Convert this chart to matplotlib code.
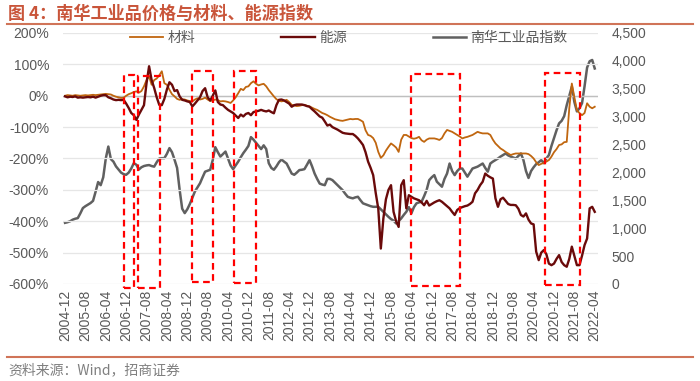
import numpy as np
import pandas as pd
import matplotlib
matplotlib.use('Agg')
import matplotlib.pyplot as plt
from matplotlib.patches import Rectangle
from matplotlib import ticker

plt.rcParams['font.family'] = ['Liberation Sans', 'Noto Sans CJK SC', 'DejaVu Sans']

# monthly, 2004-12 .. 2022-04
months = pd.date_range('2004-12-01', periods=209, freq='MS').strftime('%Y-%m').tolist()

# 材料 (%), left axis
material = [0, 2, 1, 0, 2, 1, 0, 1, 2, 1, 2, 3, 2, 3, 4, 5,
            6, 5, 4, 0, -3, -5, -7, -6, 0, 5, 8, 12, 14, 10, 15, 30,
            50, 62, 35, 50, 55, 65, 78, 40, 35, 19, 5, -2, -10, -13, -11, -12,
            -15, -17, -18, -12, -8, -12, -10, -6, -12, -17, -15, -12, -14, -18, -17, -18,
            -20, -23, -15, -5, 8, 22, 18, 28, 30, 40, 46, 38, 33, 36, 38, 30,
            18, 8, -2, -11, -16, -18, -16, -13, -20, -29, -31, -33, -32, -30, -29, -32,
            -34, -38, -42, -45, -50, -55, -58, -62, -67, -71, -75, -77, -79, -80, -78, -76,
            -74, -75, -74, -74, -78, -83, -110, -125, -128, -135, -150, -179, -198, -190, -175, -163,
            -152, -158, -165, -179, -140, -125, -125, -130, -135, -137, -135, -131, -142, -147, -140, -136,
            -136, -136, -138, -141, -135, -120, -109, -112, -115, -120, -125, -130, -136, -133, -131, -128,
            -125, -120, -115, -118, -120, -120, -120, -125, -140, -152, -160, -168, -173, -179, -184, -189,
            -186, -184, -184, -184, -184, -184, -186, -192, -200, -212, -221, -217, -214, -210, -205, -194,
            -180, -170, -157, -155, -148, -147, -40, 39, -5, -46, -55, -62, -55, -24, -35, -40,
            -35]

# 能源 (%), left axis
energy = [-2, -5, -3, -4, -2, -6, -5, -6, -5, -4, -5, -3, -6, -3, 0, 2,
          2, -5, -8, -12, -14, -13, -14, -13, -25, -39, -55, -62, -77, -60, -45, -30,
          40, 94, 50, 25, -5, -29, -30, -10, 20, 43, 35, 15, 18, -2, -13, -15,
          -18, -20, -34, -25, -15, -5, 15, 24, -5, -15, 0, 17, -20, -28, -30, -38,
          -45, -50, -55, -63, -71, -60, -66, -58, -55, -62, -52, -50, -48, -45, -48, -50,
          -47, -52, -56, -30, -13, -12, -15, -20, -25, -35, -30, -28, -28, -28, -30, -33,
          -35, -43, -50, -58, -66, -70, -82, -95, -92, -100, -104, -108, -113, -118, -120, -121,
          -122, -122, -128, -136, -146, -157, -180, -210, -230, -253, -310, -360, -487, -391, -330, -300,
          -285, -370, -400, -418, -285, -269, -359, -317, -322, -327, -330, -333, -340, -349, -335, -350,
          -345, -340, -336, -333, -338, -345, -352, -359, -370, -380, -364, -358, -355, -352, -350, -345,
          -338, -311, -300, -285, -274, -248, -255, -260, -264, -327, -354, -330, -325, -335, -345, -348,
          -348, -349, -360, -380, -385, -375, -395, -407, -410, -497, -524, -500, -492, -505, -535, -540,
          -535, -520, -508, -530, -540, -545, -520, -481, -510, -540, -540, -510, -476, -455, -359, -354,
          -370]

# 南华工业品指数, right axis
nanhua = [1097, 1108, 1125, 1153, 1170, 1181, 1266, 1361, 1395, 1423, 1451, 1491, 1654, 1828, 1772, 1913,
          2250, 2464, 2239, 2194, 2109, 2053, 1997, 1969, 1958, 1997, 2070, 2166, 2138, 2053, 2093, 2115,
          2126, 2132, 2115, 2104, 2183, 2250, 2256, 2256, 2334, 2436, 2363, 2228, 2081, 1688, 1350, 1271,
          1339, 1434, 1547, 1659, 1733, 1806, 1913, 2014, 2031, 2048, 2222, 2453, 2363, 2284, 2329, 2374,
          2250, 2126, 2059, 2126, 2194, 2273, 2346, 2408, 2475, 2633, 2588, 2531, 2475, 2419, 2486, 2419,
          2166, 2081, 2048, 2109, 2183, 2233, 2194, 2160, 2070, 1980, 1958, 1997, 2042, 2048, 2059, 2138,
          2222, 2109, 1980, 1884, 1800, 1783, 1772, 1884, 1884, 1862, 1817, 1772, 1727, 1682, 1620, 1564,
          1547, 1536, 1553, 1564, 1502, 1446, 1429, 1412, 1395, 1384, 1384, 1384, 1339, 1294, 1249, 1204,
          1164, 1136, 1086, 1125, 1176, 1238, 1294, 1378, 1266, 1378, 1446, 1463, 1474, 1575, 1688, 1862,
          1913, 1952, 1834, 1789, 1744, 1884, 1980, 2160, 2025, 1952, 2025, 2070, 2070, 1997, 1924, 1997,
          2070, 2087, 2104, 2132, 2160, 2081, 2014, 2160, 2194, 2222, 2250, 2284, 2312, 2340, 2306, 2284,
          2267, 2250, 2295, 2340, 2222, 2025, 1901, 2025, 2093, 2149, 2183, 2222, 2166, 2250, 2312, 2475,
          2616, 2756, 2880, 2925, 3009, 3206, 3375, 3538, 3263, 3094, 3150, 3240, 3544, 3881, 3994, 4016,
          3864]

# highlighted periods: (start month idx, end month idx, top %, bottom %)
boxes = [(23.2, 27.1, 66, -613), (28.6, 37.3, 63, -613), (49.8, 58.1, 79, -594),
         (66.3, 75.0, 79, -597), (135.8, 155.0, 69, -607), (188.4, 202.1, 73, -603)]

c_mat = '#C0660F'
c_en = '#6A0A0A'
c_nh = '#606060'
c_txt = '#595959'
c_title = '#C9553A'

fig = plt.figure(figsize=(7, 3.81), dpi=100)
ax = fig.add_axes([0.09, 0.2546, 0.764, 0.6588])
ax2 = ax.twinx()

x = np.arange(len(months))
l1, = ax.plot(x, material, color=c_mat, lw=1.3, label='材料')
l2, = ax.plot(x, energy, color=c_en, lw=1.7, label='能源')
l3, = ax2.plot(x, nanhua, color=c_nh, lw=1.8, label='南华工业品指数')

for x0, x1, top, bot in boxes:
    ax.add_patch(Rectangle((x0, bot), x1 - x0, top - bot, fill=False, ec='#FF0000',
                           lw=1.6, ls=(0, (3, 2)), clip_on=False, zorder=10))

ax.set_xlim(-0.8, 209.2)
ax.set_ylim(-600, 200)
ax2.set_ylim(0, 4500)
ax.set_yticks(np.arange(-600, 201, 100))
ax2.set_yticks(np.arange(0, 4501, 500))
ax.yaxis.set_major_formatter(ticker.FuncFormatter(lambda v, p: '%d%%' % v))
ax2.yaxis.set_major_formatter(ticker.FuncFormatter(lambda v, p: '{:,.0f}'.format(v)))
ax.set_xticks(x[::8])
ax.set_xticklabels(months[::8], rotation=90)

for a in (ax, ax2):
    for s in a.spines.values():
        s.set_visible(False)
    a.tick_params(length=0, labelsize=10, colors=c_txt)
ax.tick_params(axis='y', pad=10)
ax2.tick_params(axis='y', pad=10)
ax.tick_params(axis='x', pad=4)

ax.grid(axis='y', color='#E6E6E6', lw=0.9)
ax.axhline(0, color='#BFBFBF', lw=1.0, zorder=1)
ax.set_axisbelow(True)
ax.set_zorder(ax2.get_zorder() + 1)
ax.patch.set_visible(False)

fig.legend([l1, l2, l3], ['材料', '能源', '南华工业品指数'], loc='center left',
           bbox_to_anchor=(0.168, 0.901), ncol=3, frameon=False,
           handlelength=2.4, handletextpad=0.3, columnspacing=6.2, labelcolor=c_txt,
           prop={'family': ['Noto Sans CJK SC'], 'size': 10})

fig.text(0.012, 0.965, '图 4：南华工业品价格与材料、能源指数', fontsize=12.3, fontweight='bold',
         color=c_title, va='center', family=['Noto Sans CJK SC', 'DejaVu Sans'])
fig.add_artist(plt.Line2D([0.01, 0.99], [0.937, 0.937], color='#D07458', lw=1.5))
fig.add_artist(plt.Line2D([0.01, 0.99], [0.063, 0.063], color='#D07458', lw=1.5))
fig.text(0.012, 0.028, '资料来源：Wind，招商证券', fontsize=10, color='#7F7F7F', va='center',
         family=['Noto Sans CJK SC', 'DejaVu Sans'])

fig.savefig('out.png', dpi=100)
